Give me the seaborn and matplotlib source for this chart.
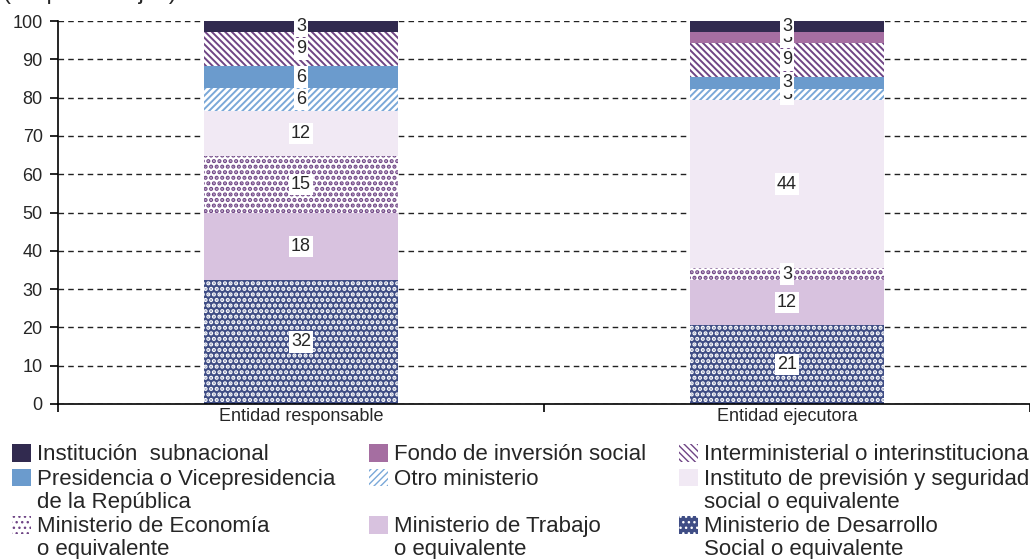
import numpy as np
import matplotlib.pyplot as plt
import seaborn as sns
from matplotlib.patches import Patch

# -------------------
# Data
# -------------------
entidades = ["Entidad responsable", "Entidad ejecutora"]

# categories, from the bottom of the stack to the top
categorias = [
    "Ministerio de Desarrollo\nSocial o equivalente",
    "Ministerio de Trabajo\no equivalente",
    "Ministerio de Economía\no equivalente",
    "Instituto de previsión y seguridad\nsocial o equivalente",
    "Otro ministerio",
    "Presidencia o Vicepresidencia\nde la República",
    "Interministerial o interinstitucional",
    "Fondo de inversión social",
    "Institución  subnacional",
]

responsable = [32.4, 17.6, 14.7, 11.8, 5.9, 5.9, 8.8, 0.0, 2.9]
ejecutora = [20.6, 11.8, 3.0, 44.0, 2.9, 3.1, 8.9, 2.9, 2.8]

# (face colour, hatch colour, hatch) per category
estilos = [
    ("#3f4d85", "white", "..."),
    ("#d8c2df", None, None),
    ("white", "#6f4585", "..."),
    ("#f1e9f4", None, None),
    ("white", "#7aa8d8", "/////"),
    ("#6b9bcd", None, None),
    ("white", "#6f4585", "\\" * 5),
    ("#a56ea1", None, None),
    ("#312a4f", None, None),
]

# legend rows, as in the original (indices into categorias)
filas_leyenda = [[8, 7, 6], [5, 4, 3], [2, 1, 0]]

sns.set_style("white")
plt.rcParams["font.family"] = ["Liberation Sans", "DejaVu Sans"]


def grosor_trama(hatch):
    # dots look better a bit heavier than the diagonal lines
    return 2.1 if hatch and "." in hatch else 1.4


fig, ax = plt.subplots(figsize=(10.3, 5.59), dpi=100)
fig.subplots_adjust(left=0.0563, right=1.0, bottom=0.2773, top=0.9624)

# -------------------
# Stacked bars
# -------------------
base = np.zeros(len(entidades))
for k, cat in enumerate(categorias):
    vals = np.array([responsable[k], ejecutora[k]])
    fc, hc, hatch = estilos[k]
    n0 = len(ax.patches)
    with plt.rc_context({"hatch.linewidth": grosor_trama(hatch)}):
        sns.barplot(x=entidades, y=vals, bottom=base, width=0.4, color=fc,
                    errorbar=None, saturation=1, ax=ax)
    for p in ax.patches[n0:]:
        p.set_facecolor(fc)
        p.set_edgecolor(hc if hc else fc)
        p.set_linewidth(0)
        p.set_hatch(hatch)
    ax.bar_label(ax.containers[-1],
                 labels=[f"{v:.0f}" if v > 0 else "" for v in vals],
                 label_type="center", fontsize=13,
                 bbox=dict(boxstyle="square,pad=0.12", facecolor="white",
                           edgecolor="none"))
    base += vals

# -------------------
# Axes
# -------------------
ax.set_ylim(0, 100)
ax.set_xlim(-0.5, 1.5)
ax.set_yticks(range(0, 101, 10))
ax.set_xticks([-0.5, 0.5, 1.5], minor=True)
ax.set_xlabel("")
ax.set_ylabel("")

ax.set_axisbelow(True)
ax.yaxis.grid(True, linestyle=(0, (4, 3)), color="#222222", linewidth=1)

for side in ["top", "right"]:
    ax.spines[side].set_visible(False)
for side in ["left", "bottom"]:
    ax.spines[side].set_color("black")
    ax.spines[side].set_linewidth(1.2)

ax.tick_params(axis="y", length=6, width=1.2, color="black",
               labelsize=13, pad=5, left=True)
ax.tick_params(axis="x", which="major", length=0, labelsize=13, pad=3)
ax.tick_params(axis="x", which="minor", length=6, width=1.2,
               color="black", bottom=True)

# title, cut by the top edge of the picture
fig.text(0.003, 1 + 1.5 / 559, "(En porcentajes)", fontsize=17,
         va="baseline", ha="left")

# -------------------
# Legend
# -------------------
handles = []
for fc, hc, hatch in estilos:
    with plt.rc_context({"hatch.linewidth": grosor_trama(hatch)}):
        handles.append(Patch(facecolor=fc, edgecolor=hc if hc else fc,
                             hatch=hatch, linewidth=0))

etiquetas = list(categorias)
for fila in filas_leyenda:
    n_lineas = max(categorias[i].count("\n") + 1 for i in fila)
    for i in fila:
        faltan = n_lineas - (categorias[i].count("\n") + 1)
        etiquetas[i] = categorias[i] + "\n " * faltan

orden = [fila[c] for c in range(3) for fila in filas_leyenda]

leg = ax.legend(
    [handles[i] for i in orden],
    [etiquetas[i] for i in orden],
    ncol=3,
    loc="upper left",
    bbox_to_anchor=(0.0115, 0.206),
    bbox_transform=fig.transFigure,
    frameon=False,
    fontsize=16,
    borderpad=0,
    borderaxespad=0,
    handlelength=0.86,
    handleheight=0.86,
    handletextpad=0.27,
    columnspacing=1.5,
    labelspacing=0.17,
)
for t in leg.get_texts():
    t.set_linespacing(1.12)
for col in leg._legend_handle_box.get_children():
    for entry in col.get_children():
        entry.align = "top"

plt.savefig("out.png", dpi=100)
